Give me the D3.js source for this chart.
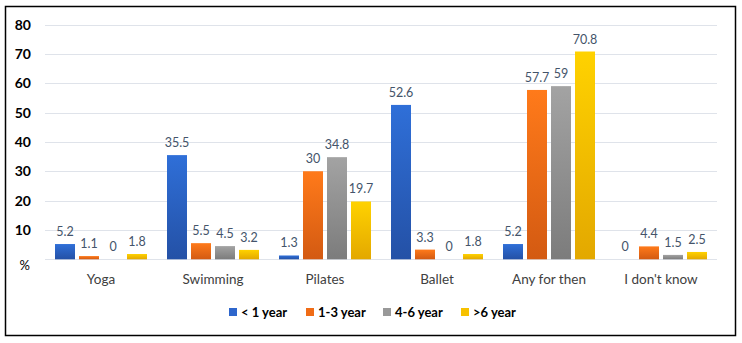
<!DOCTYPE html>
<html lang="en">
<head>
<meta charset="UTF-8">
<title>Activity by experience</title>
<script src="https://cdn.jsdelivr.net/npm/d3@7"></script>
<style>
  body { margin: 0; background: #fff; }
  svg text { font-family: Lato, "Open Sans", sans-serif; }
</style>
</head>
<body>
<svg id="chart" width="742" height="343"></svg>
<script>
// data
var categories = ["Yoga", "Swimming", "Pilates", "Ballet", "Any for then", "I don't know"];
var seriesNames = ["< 1 year", "1-3 year", "4-6 year", ">6 year"];
var lessThan1 = [5.2, 35.5, 1.3, 52.6, 5.2, 0];
var oneToThree = [1.1, 5.5, 30, 3.3, 57.7, 4.4];
var fourToSix = [0, 4.5, 34.8, 0, 59, 1.5];
var moreThan6 = [1.8, 3.2, 19.7, 1.8, 70.8, 2.5];
var yTicks = [0, 10, 20, 30, 40, 50, 60, 70, 80];

var series = [lessThan1, oneToThree, fourToSix, moreThan6];
var colorTop = ["#2f6fd8", "#ff7a1a", "#a3a3a3", "#ffd200"];
var colorBot = ["#2451a6", "#d35a12", "#7c7c7c", "#e3a800"];
var legendCol = ["#2e66cc", "#f06c16", "#999999", "#f7c100"];

var svg = d3.select("#chart");

// 外框
svg.append("rect")
    .attr("x", 5.5).attr("y", 6.5)
    .attr("width", 730).attr("height", 329)
    .attr("fill", "#fff")
    .attr("stroke", "#000")
    .attr("stroke-width", 1.5);

var defs = svg.append("defs");
series.forEach(function (s, i) {
    var g = defs.append("linearGradient")
        .attr("id", "grad" + i)
        .attr("x1", "0%").attr("y1", "0%").attr("x2", "0%").attr("y2", "100%");
    g.append("stop").attr("offset", "0%").attr("stop-color", colorTop[i]);
    g.append("stop").attr("offset", "100%").attr("stop-color", colorBot[i]);
});

var left = 45, right = 717;
var x0 = d3.scaleBand().domain(categories).range([left, right]).padding(0);
var x1 = d3.scaleBand().domain(seriesNames).range([10, 102]).paddingInner(1 / 6).paddingOuter(0);
var y = d3.scaleLinear().domain([0, 80]).range([259.3, 24.5]);

// 网格线
svg.append("g").selectAll("line")
    .data(yTicks)
    .enter()
    .append("line")
    .attr("x1", left).attr("x2", right)
    .attr("y1", function (d) { return Math.round(y(d)) + 0.5; })
    .attr("y2", function (d) { return Math.round(y(d)) + 0.5; })
    .attr("stroke", "#dfe3ea")
    .attr("stroke-width", 1);

// y 轴标签, 0 显示为 %
svg.append("g").selectAll("text")
    .data(yTicks)
    .enter()
    .append("text")
    .attr("x", function (d) { return d === 0 ? 30 : 31; })
    .attr("y", function (d) { return d === 0 ? y(d) + 11 : y(d) + 5; })
    .attr("text-anchor", "end")
    .attr("font-size", d => d === 0 ? 13 : 14)
    .attr("font-weight", d => d === 0 ? "normal" : "bold")
    .attr("fill", "#000")
    .text(function (d) { return d === 0 ? "%" : d; });

// 柱子
var groups = svg.append("g").selectAll("g")
    .data(categories)
    .enter()
    .append("g")
    .attr("transform", function (d) { return "translate(" + x0(d) + ",0)"; });

groups.each(function (cat, ci) {
    var g = d3.select(this);
    var vals = series.map(function (s, si) { return { name: seriesNames[si], v: s[ci], i: si }; });
    g.selectAll("rect")
        .data(vals)
        .enter()
        .append("rect")
        .attr("x", d => x1(d.name))
        .attr("y", d => y(d.v))
        .attr("width", x1.bandwidth())
        .attr("height", d => y(0) - y(d.v))
        .attr("fill", d => "url(#grad" + d.i + ")");
    g.selectAll("text")
        .data(vals)
        .enter()
        .append("text")
        .attr("x", d => x1(d.name) + x1.bandwidth() / 2)
        .attr("y", d => y(d.v) - 8)
        .attr("text-anchor", "middle")
        .attr("font-size", 12.5)
        .attr("fill", "#44546a")
        .text(d => d.v);
});

// 类别标签
svg.append("g").selectAll("text")
    .data(categories)
    .enter()
    .append("text")
    .attr("x", d => x0(d) + x0.bandwidth() / 2)
    .attr("y", 284)
    .attr("text-anchor", "middle")
    .attr("font-size", 13.5)
    .attr("fill", "#404040")
    .text(d => d);

// 图例
var legendX = [229, 306, 383, 461];
var legend = svg.append("g").selectAll("g")
    .data(seriesNames)
    .enter()
    .append("g")
    .attr("transform", (d, i) => "translate(" + legendX[i] + ",308)");
legend.append("rect")
    .attr("width", 8).attr("height", 8)
    .attr("fill", (d, i) => legendCol[i]);
legend.append("text")
    .attr("x", 12).attr("y", 9)
    .attr("font-size", 13)
    .attr("font-weight", "bold")
    .attr("fill", "#000")
    .text(d => d);
</script>
</body>
</html>
